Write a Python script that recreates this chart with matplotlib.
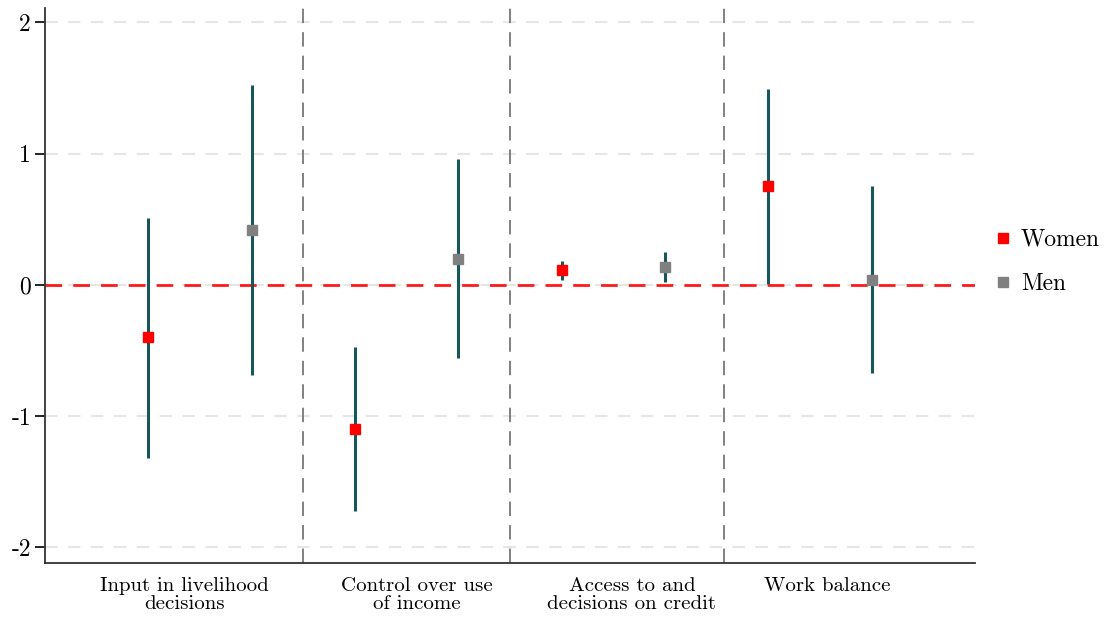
import matplotlib
matplotlib.use("Agg")
import matplotlib.pyplot as plt
from matplotlib.lines import Line2D

plt.rcParams['font.family'] = ['cmr10', 'DejaVu Serif']
plt.rcParams['axes.unicode_minus'] = False
plt.rcParams['mathtext.fontset'] = 'cm'

categories = ["Input in livelihood\ndecisions", "Control over use\nof income",
              "Access to and\ndecisions on credit", "Work balance"]
label_pos = [1.35, 3.6, 5.68, 7.57]
dividers = [2.5, 4.5, 6.57]

women_x = [1, 3, 5, 7]
women_est = [-0.40, -1.10, 0.11, 0.755]
women_lo = [-1.32, -1.72, 0.04, 0.01]
women_hi = [0.51, -0.47, 0.18, 1.49]

men_x = [2, 4, 6, 8]
men_est = [0.42, 0.20, 0.135, 0.04]
men_lo = [-0.69, -0.56, 0.02, -0.67]
men_hi = [1.52, 0.96, 0.25, 0.755]

yticks = [-2, -1, 0, 1, 2]
ytick_labels = ["-2", "-1", "0", "1", "2"]

ci_color = '#17575b'

fig = plt.figure(figsize=(11.04, 6.17), dpi=100)
ax = fig.add_axes([45/1104, 1-563/617, (975-45)/1104, (563-8)/617])

for y in yticks:
    ax.axhline(y, color='#e6e6e6', lw=1.5, ls=(0, (6, 5)), zorder=0)
for d in dividers:
    ax.axvline(d, color='#777777', lw=1.3, ls=(0, (8, 5)), zorder=1)
ax.axhline(0, color='#ff1a1a', lw=2.0, ls=(0, (6, 4)), zorder=2)

ax.vlines(women_x, women_lo, women_hi, color=ci_color, lw=2.2, zorder=3)
ax.vlines(men_x, men_lo, men_hi, color=ci_color, lw=2.2, zorder=3)
ax.plot(women_x, women_est, 's', color='#ff0000', ms=7.5, zorder=4, lw=0)
ax.plot(men_x, men_est, 's', color='#808080', ms=7.5, zorder=4, lw=0)

ax.set_xlim(0, 9)
ax.set_ylim(-2.12, 2.11)
ax.set_yticks(yticks)
ax.set_yticklabels(ytick_labels, fontsize=17)
ax.tick_params(axis='y', length=7, width=1.2, pad=3)
ax.set_xticks(label_pos)
ax.set_xticklabels(categories, fontsize=15, linespacing=1.02)
ax.tick_params(axis='x', length=0, pad=10)
for s in ['top', 'right']:
    ax.spines[s].set_visible(False)
for s in ['left', 'bottom']:
    ax.spines[s].set_linewidth(1.3)
    ax.spines[s].set_color('#333333')

handles = [Line2D([], [], marker='s', ls='', color='#ff0000', ms=7),
           Line2D([], [], marker='s', ls='', color='#808080', ms=7)]
fig.legend(handles, ["Women", "Men"], loc='center left',
           bbox_to_anchor=(988/1104, 1-262/617), frameon=False,
           fontsize=17, handletextpad=0.3, labelspacing=0.95, handlelength=0.9,
           borderaxespad=0, borderpad=0.2)

fig.savefig("out.png", dpi=100)
